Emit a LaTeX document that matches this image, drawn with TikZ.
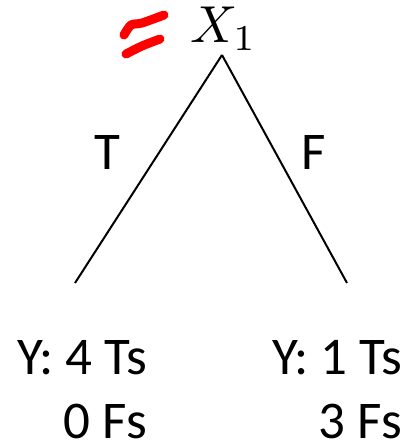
\documentclass[tikz,border=0pt]{standalone}
\usepackage{graphicx}
\usepackage{fontspec}
\setmainfont{Carlito}
\begin{document}
\begin{tikzpicture}[x=1pt,y=-1pt,
  edge/.style={line width=2pt},
  lbl/.style={inner sep=0pt,font=\fontsize{53}{60}\selectfont},
  redstroke/.style={red,line width=9pt,line cap=round,line join=round}]
\useasboundingbox (0,0) rectangle (403,444);
\node[inner sep=0pt,anchor=base west] (x1) at (190,43) {\scalebox{5.2}{$X_1$}};
\coordinate (apex) at (222,55);
\coordinate (lend) at (75,283);
\coordinate (rend) at (347,283);
\draw[edge] (apex) -- (lend);
\draw[edge] (apex) -- (rend);
\node[lbl,anchor=base] (t) at (107,169) {T};
\node[lbl,anchor=base] (f) at (314,169) {F};
\node[lbl,anchor=base east] (l1) at (147,374) {Y: 4 Ts};
\node[lbl,anchor=base east] (l2) at (147,438) {0 Fs};
\node[lbl,anchor=base east] (r1) at (402,374) {Y: 1 Ts};
\node[lbl,anchor=base east] (r2) at (402,438) {3 Fs};
\draw[redstroke] plot[smooth] coordinates {(124,35) (131,25) (142,23) (164,15)};
\draw[redstroke] plot[smooth] coordinates {(126,54) (142,46) (160,39)};
\end{tikzpicture}
\end{document}
